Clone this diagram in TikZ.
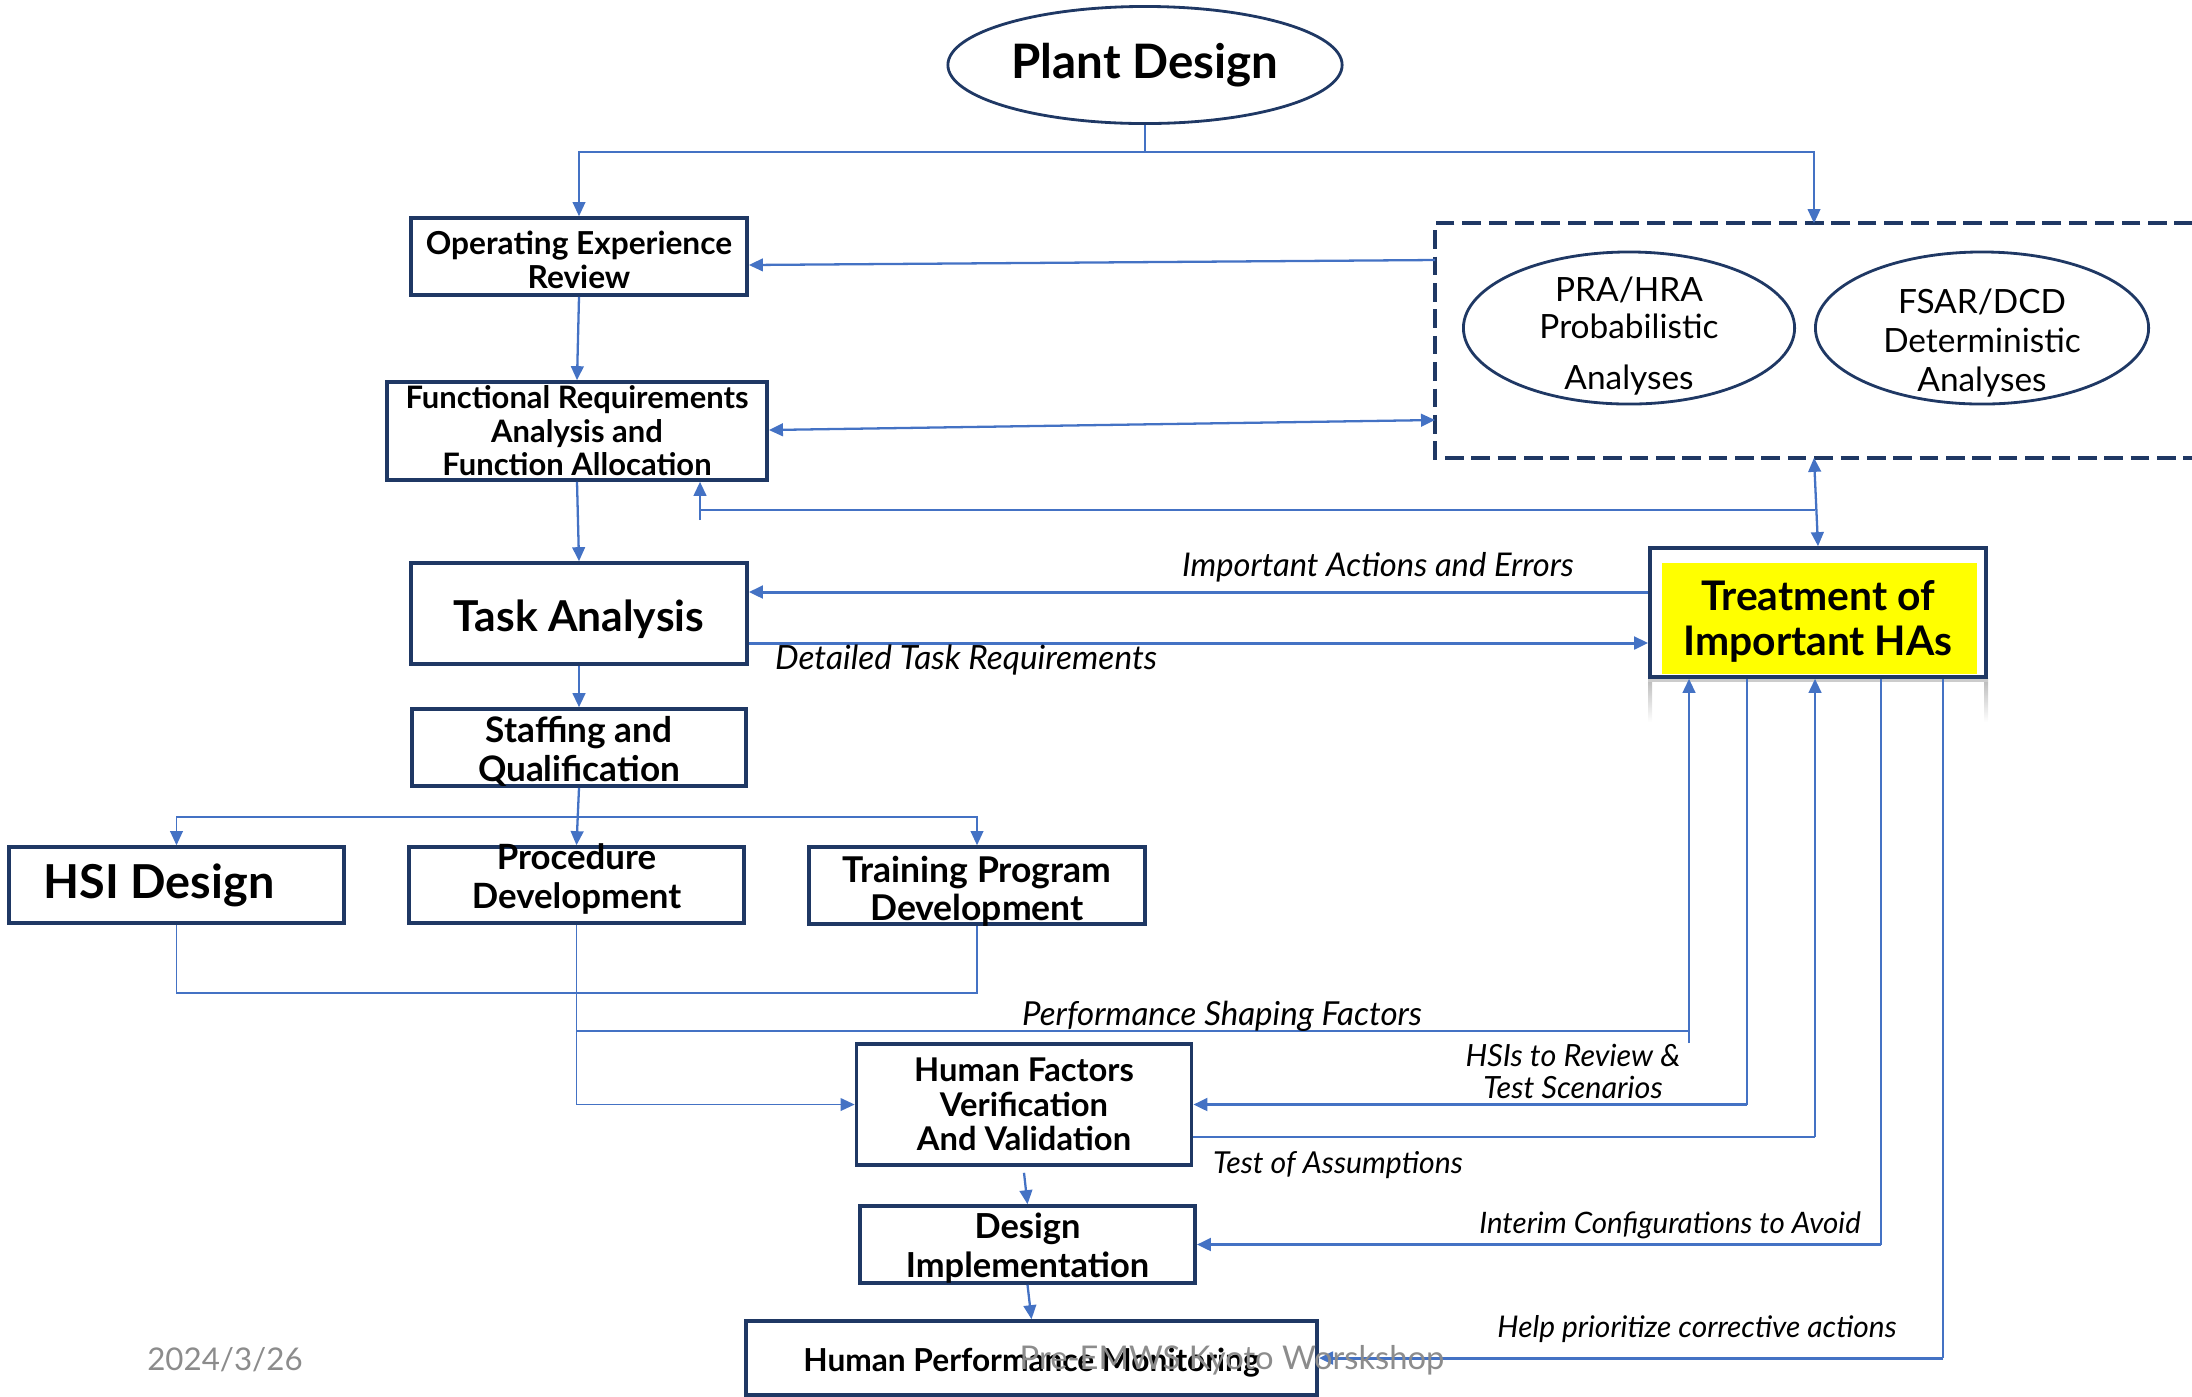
\documentclass[tikz,border=0pt]{standalone}
\usepackage{fontspec}
\setmainfont{Lato}
\usetikzlibrary{shapes.geometric,arrows.meta}
\definecolor{navy}{HTML}{1F3864}
\definecolor{linkblue}{HTML}{4472C4}
\definecolor{hayellow}{HTML}{FFFF00}
\definecolor{stampgray}{HTML}{8C8C8C}
\begin{document}
\begin{tikzpicture}[x=0.01cm,y=-0.01cm,
  >={Triangle[length=4pt,width=3.6pt]},
  box/.style={draw=navy,line width=1pt,inner xsep=0pt,inner ysep=-6pt,align=center},
  oval/.style={ellipse,draw=navy,line width=0.8pt,inner sep=-12pt,align=center},
  link/.style={draw=linkblue,line width=0.45pt},
  flow/.style={draw=linkblue,line width=0.65pt,->},
  note/.style={font=\itshape\fontsize{8.5}{9.1}\selectfont,inner sep=0pt,align=center},
  stamp/.style={text=stampgray,inner sep=0pt}]
\useasboundingbox (0,0) rectangle (2192,1396);

\node[oval,minimum width=3.94cm,minimum height=1.17cm,font=\bfseries\fontsize{13.5}{15}\selectfont] (plant) at (1145,65) {Plant Design};
\node[box,minimum width=3.36cm,minimum height=0.77cm,font=\bfseries\fontsize{9}{9.6}\selectfont] (oer) at (579,256.5) {\rule{0pt}{8.8pt}Operating Experience\\Review};
\node[box,minimum width=3.80cm,minimum height=0.98cm,font=\bfseries\fontsize{8.8}{9.5}\selectfont] (fra) at (577,431) {Functional Requirements\\Analysis and\\Function Allocation};
\node[minimum width=7.56cm,minimum height=2.33cm,inner sep=0pt] (ana) at (1814,340.5) {};
\draw[navy,line width=1pt,dash pattern=on 5.3pt off 2.2pt] (ana.north east) -| (ana.south west) -- (ana.south east);
\node[oval,minimum width=3.31cm,minimum height=1.52cm,font=\fontsize{9.5}{10.5}\selectfont] (pra) at (1629,328) {\rule{0pt}{11.6pt}PRA/HRA\\Probabilistic\\[4pt]Analyses};
\node[oval,minimum width=3.33cm,minimum height=1.52cm,font=\fontsize{9.5}{11}\selectfont] (fsar) at (1982,328) {\rule{0pt}{15.6pt}FSAR/DCD\\Deterministic\\Analyses};
\node[box,minimum width=3.36cm,minimum height=1.01cm,font=\bfseries\fontsize{12.1}{13}\selectfont] (task) at (579,613.5) {\rule{0pt}{12.3pt}Task Analysis};
\shade[top color=gray!55,bottom color=white] (1648,678) rectangle (1652,722);
\shade[top color=gray!55,bottom color=white] (1984,678) rectangle (1988,722);
\fill[gray!40] (1648,678) rectangle (1988,682);
\fill[hayellow] (1662,563) rectangle (1977,674);
\node[box,minimum width=3.36cm,minimum height=1.29cm,font=\bfseries\fontsize{11.6}{12.8}\selectfont] (treat) at (1818,612.5) {\rule{0pt}{13.6pt}Treatment of\\Important HAs};

\node[box,minimum width=3.34cm,minimum height=0.77cm,font=\bfseries\fontsize{10}{11}\selectfont] (staff) at (579,747.5) {\rule{0pt}{9.8pt}Staffing and\\Qualification};
\node[box,minimum width=3.35cm,minimum height=0.76cm,font=\bfseries\fontsize{13.3}{14}\selectfont] (hsi) at (176.5,885) {HSI Design\hspace*{0.35cm}};
\node[box,minimum width=3.35cm,minimum height=0.76cm,font=\bfseries\fontsize{9.9}{11}\selectfont] (proc) at (576.5,885) {Procedure\\Development\rule[-5.2pt]{0pt}{0pt}};
\node[box,minimum width=3.36cm,minimum height=0.77cm,font=\bfseries\fontsize{10.1}{10.8}\selectfont] (train) at (977,885.5) {\rule{0pt}{10.8pt}Training Program\\Development};
\node[box,minimum width=3.35cm,minimum height=1.21cm,font=\bfseries\fontsize{9.3}{9.8}\selectfont] (hfvv) at (1024,1104.5) {Human Factors\\Verification\\And Validation};
\node[box,minimum width=3.35cm,minimum height=0.77cm,font=\bfseries\fontsize{9.8}{11.2}\selectfont] (impl) at (1027.5,1244.5) {\rule{0pt}{9.2pt}Design\\Implementation};
\node[box,minimum width=5.71cm,minimum height=0.74cm,font=\bfseries\fontsize{9}{11}\selectfont] (hpm) at (1031.5,1358) {\rule{0pt}{9.1pt}Human Performance Monitoring};

\coordinate (split) at (1145,152);
\draw[link] (plant.south) -- (split);
\draw[flow,line width=0.45pt] (split) -| (oer.north);
\draw[flow,line width=0.45pt] (split) -| (ana.north);
\draw[flow] (oer.south) -- (fra.north);
\draw[flow] ([shift={(0,-80.5)}]ana.west) -- ([shift={(0,8.5)}]oer.east);
\draw[flow,<->] ([shift={(0,-1)}]fra.east) -- ([shift={(0,79.5)}]ana.west);
\draw[flow] (fra.south) -- (task.north);
\draw[flow,<->] (ana.south) -- (treat.north);
\coordinate (fbr) at (1815,510);
\coordinate (fbl) at (700,510);
\draw[link] (fbr) -- (fbl);
\draw[flow] ([shift={(0,10)}]fbl) -- (fbl |- fra.south);
\draw[flow,line width=0.85pt] ([shift={(0,-20.5)}]treat.west) -- ([shift={(0,-21.5)}]task.east);
\draw[flow,line width=0.85pt] ([shift={(0,29.5)}]task.east) -- ([shift={(0,30.5)}]treat.west);

\draw[flow] (task.south) -- (staff.north);
\coordinate (branch) at (578,817);
\draw[flow] (staff.south) -- (proc.north);
\draw[flow,line width=0.45pt] (branch) -| (hsi.north);
\draw[flow,line width=0.45pt] (branch) -| (train.north);
\coordinate (merge) at (577,993);
\draw[link] (hsi.south) |- (merge) -| (train.south);
\draw[flow,line width=0.5pt] (proc.south) |- (hfvv.west);

\coordinate (psfl) at (577,1031);
\coordinate (psfr) at (1689,1031);
\draw[link] (psfl) -- (psfr);
\draw[flow] ([shift={(0,12)}]psfr) -- (psfr |- treat.south);
\coordinate (hsic) at (1747,1104.5);
\draw[link] (hsic |- treat.south) -- (hsic);
\draw[flow,line width=0.85pt] (hsic) -- (hfvv.east);
\coordinate (testc) at (1815,1137);
\draw[link] ([shift={(0,32.5)}]hfvv.east) -- (testc);
\draw[flow] (testc) -- (testc |- treat.south);
\coordinate (intc) at (1881,1244.5);
\draw[link] (intc |- treat.south) -- (intc);
\draw[flow,line width=0.85pt] (intc) -- (impl.east);
\coordinate (helpc) at (1943,1358);
\draw[link] (helpc |- treat.south) -- (helpc);
\draw[flow,line width=0.85pt] (helpc) -- (hpm.east);
\draw[flow] ([shift={(0,6)}]hfvv.south) -- (impl.north);
\draw[flow] (impl.south) -- (hpm.north);

\node[note,font=\itshape\fontsize{9.3}{10}\selectfont] (lbactions) at (1378,567) {Important Actions and Errors};
\node[note,font=\itshape\fontsize{9.5}{10}\selectfont] (lbdetail) at (966,660) {Detailed Task Requirements};
\node[note,font=\itshape\fontsize{9.4}{10}\selectfont] (lbpsf) at (1222,1016) {Performance Shaping Factors};
\node[note,font=\itshape\fontsize{8.7}{9.1}\selectfont] (lbhsi) at (1573,1071) {HSIs to Review \&\\Test Scenarios};
\node[note,font=\itshape\fontsize{8.6}{9.1}\selectfont] (lbtest) at (1338,1165) {Test of Assumptions};
\node[note,font=\itshape\fontsize{8.4}{9.1}\selectfont] (lbinterim) at (1670,1225) {Interim Configurations to Avoid};
\node[note] (lbhelp) at (1697,1329) {Help prioritize corrective actions};
\node[stamp,font=\fontsize{8.9}{11}\selectfont] (date) at (225,1360) {2024/3/26};
\node[stamp,font=\fontsize{9.3}{11}\selectfont] (venue) at (1232,1360) {Pre-EMWS Kyoto Worskshop};
\end{tikzpicture}
\end{document}
